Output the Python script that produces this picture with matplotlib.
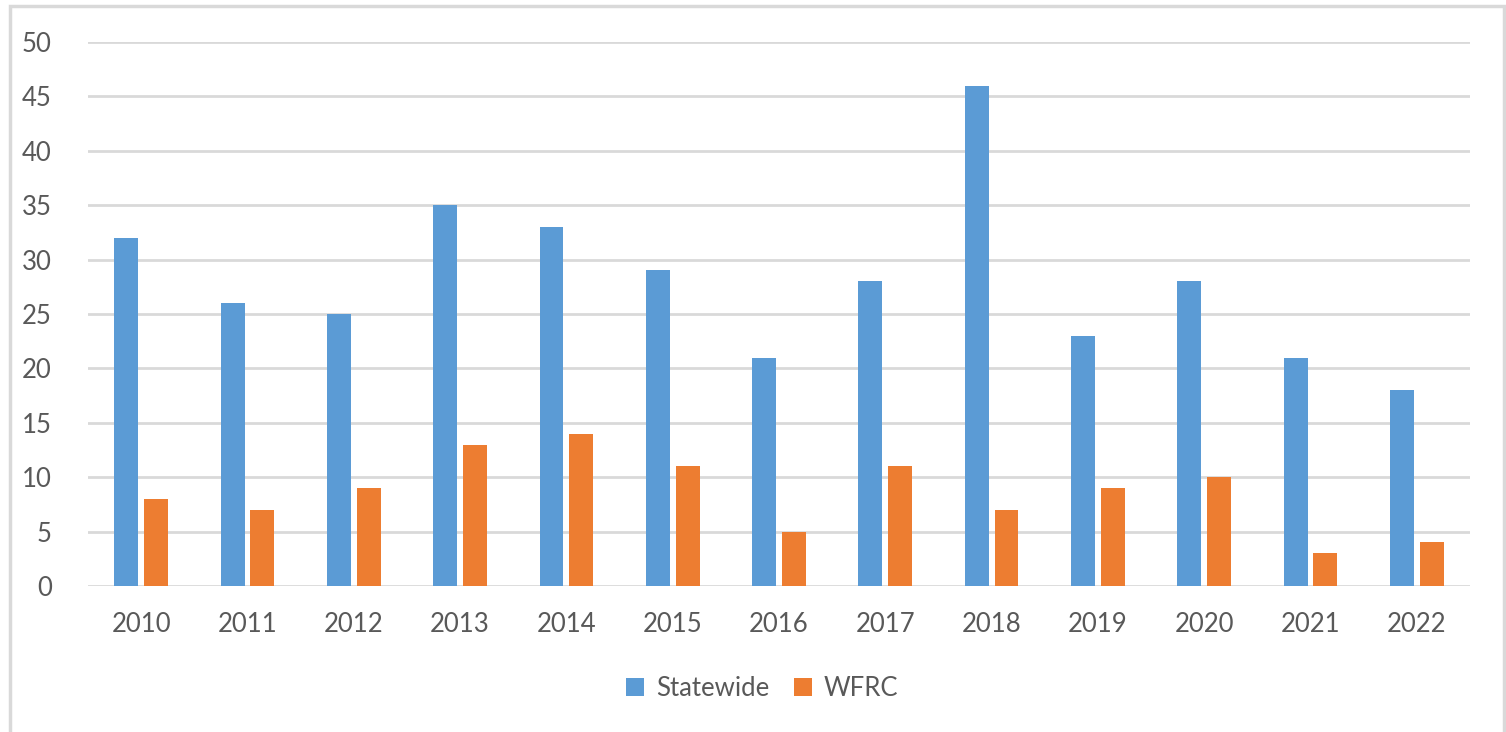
import matplotlib.pyplot as plt
from matplotlib.patches import Rectangle
import numpy as np

years = ["2010", "2011", "2012", "2013", "2014", "2015", "2016",
         "2017", "2018", "2019", "2020", "2021", "2022"]
statewide = [32, 26, 25, 35, 33, 29, 21, 28, 46, 23, 28, 21, 18]
wfrc = [8, 7, 9, 13, 14, 11, 5, 11, 7, 9, 10, 3, 4]

BLUE = "#5B9BD5"
ORANGE = "#ED7D31"
TEXT = "#595959"
GRID = "#D9D9D9"

plt.rcParams["font.family"] = ["Lato", "DejaVu Sans"]

fig = plt.figure(figsize=(15.06, 7.32), dpi=100)
ax = fig.add_axes([88 / 1506, 1 - 586 / 732, (1470 - 88) / 1506, (586 - 42) / 732])

x = np.arange(len(years))
w = 0.225
ax.bar(x - 0.14, statewide, width=w, color=BLUE, label="Statewide", zorder=3)
ax.bar(x + 0.14, wfrc, width=w, color=ORANGE, label="WFRC", zorder=3)

ax.set_xlim(-0.5, len(years) - 0.5)
ax.set_ylim(0, 50)
ax.set_yticks(range(0, 51, 5))
ax.set_xticks(x)
ax.set_xticklabels(years)
ax.yaxis.grid(True, color=GRID, linewidth=2, zorder=0)
ax.set_axisbelow(True)
for s in ax.spines.values():
    s.set_visible(False)
ax.tick_params(axis="both", length=0, colors=TEXT, labelsize=18.5)
ax.tick_params(axis="y", pad=26)
ax.tick_params(axis="x", pad=19)

leg = fig.legend(loc="center", bbox_to_anchor=(762 / 1506, 1 - 688 / 732), ncol=2,
                 frameon=False, fontsize=18.5, handlelength=0.7, handleheight=0.7,
                 handletextpad=0.45, columnspacing=0.95)
for t in leg.get_texts():
    t.set_color(TEXT)

# outer chart frame
fig.patches.append(Rectangle((10 / 1506, -0.05), (1504 - 10) / 1506, 1.05 - 6 / 732,
                             transform=fig.transFigure, fill=False,
                             edgecolor=GRID, linewidth=2.5))

fig.savefig("out.png", dpi=100, facecolor="white")
